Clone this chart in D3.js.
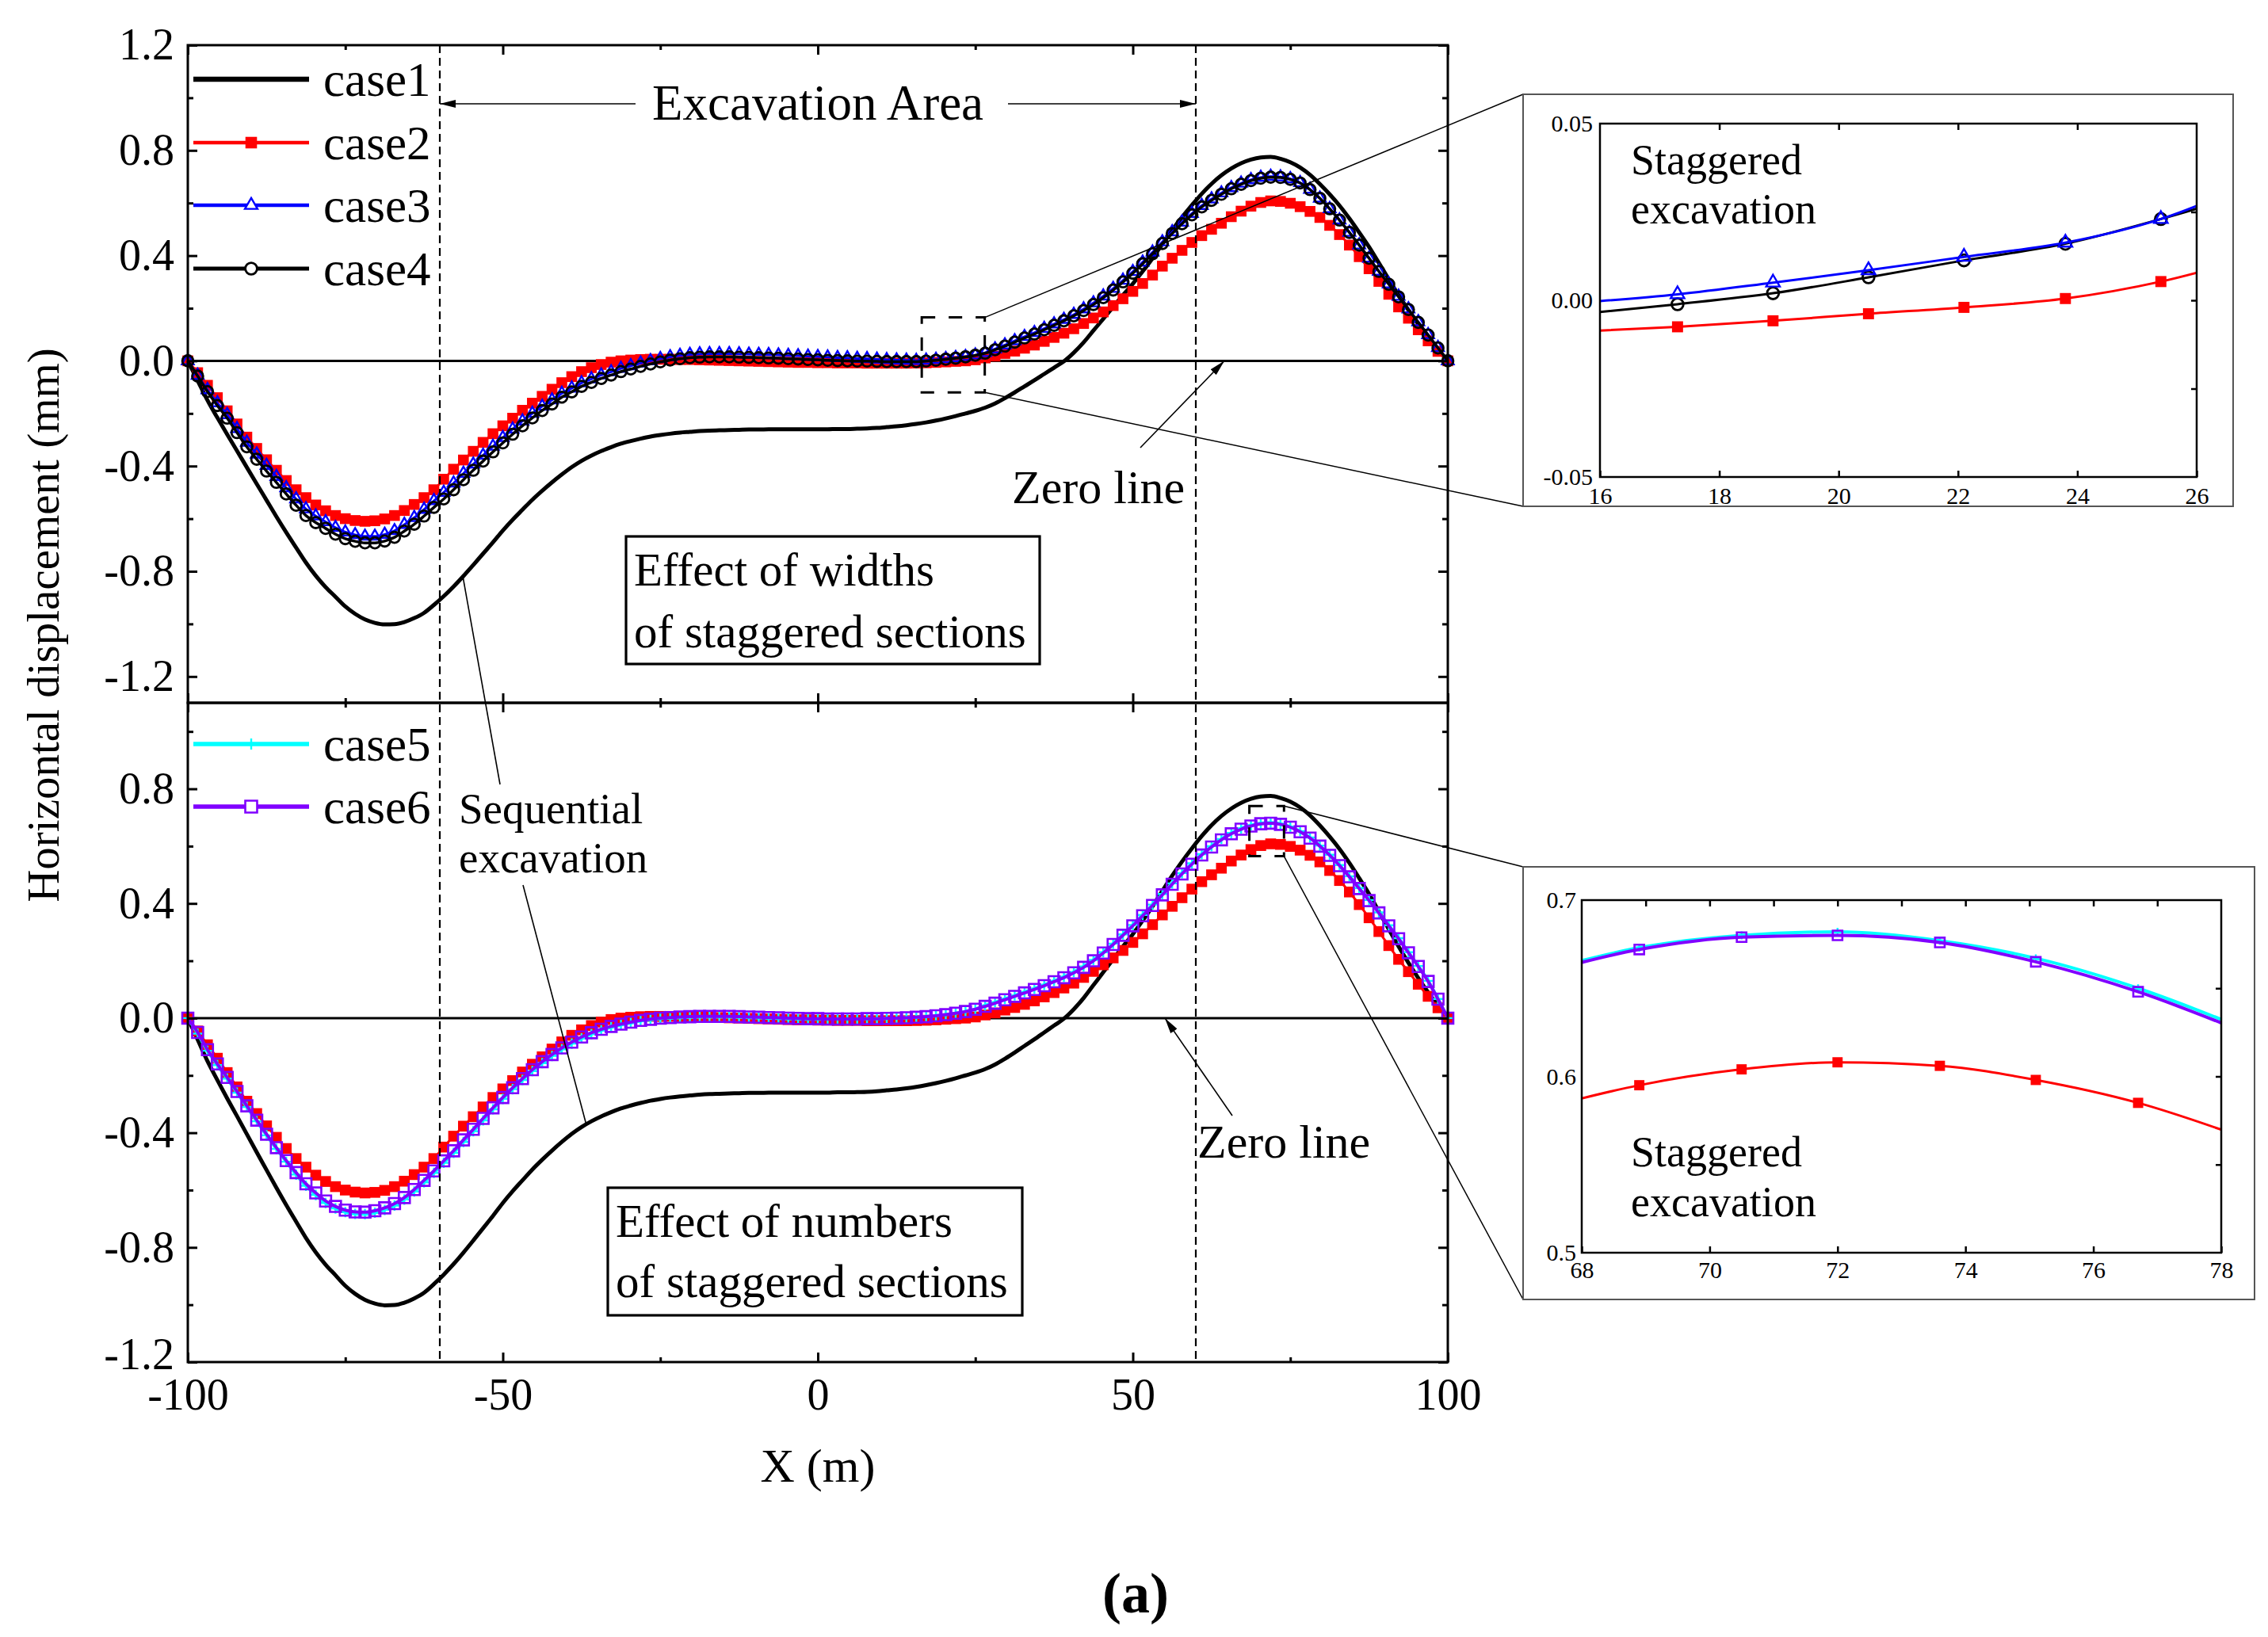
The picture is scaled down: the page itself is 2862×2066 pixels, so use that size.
<!DOCTYPE html>
<html>
<head>
<meta charset="utf-8">
<script src="https://cdn.jsdelivr.net/npm/d3@7"></script>
<style>
  html, body { margin: 0; padding: 0; background: #fff; }
  svg { display: block; }
</style>
</head>
<body>
<svg id="chart" width="2862" height="2066"></svg>
<script>
// ---- data: horizontal displacement (mm) along X (m), one value per node ----
const xNode = [-100, -98.44, -96.88, -95.31, -93.75, -92.19, -90.63, -89.06, -87.5, -85.94,
  -84.38, -82.81, -81.25, -79.69, -78.13, -76.56, -75, -73.44, -71.88, -70.31,
  -68.75, -67.19, -65.63, -64.06, -62.5, -60.94, -59.38, -57.81, -56.25, -54.69,
  -53.13, -51.56, -50, -48.44, -46.88, -45.31, -43.75, -42.19, -40.63, -39.06,
  -37.5, -35.94, -34.38, -32.81, -31.25, -29.69, -28.13, -26.56, -25, -23.44,
  -21.88, -20.31, -18.75, -17.19, -15.63, -14.06, -12.5, -10.94, -9.38, -7.81,
  -6.25, -4.69, -3.13, -1.56, 0, 1.56, 3.13, 4.69, 6.25, 7.81,
  9.38, 10.94, 12.5, 14.06, 15.63, 17.19, 18.75, 20.31, 21.88, 23.44,
  25, 26.56, 28.13, 29.69, 31.25, 32.81, 34.38, 35.94, 37.5, 39.06,
  40.63, 42.19, 43.75, 45.31, 46.88, 48.44, 50, 51.56, 53.13, 54.69,
  56.25, 57.81, 59.38, 60.94, 62.5, 64.06, 65.63, 67.19, 68.75, 70.31,
  71.88, 73.44, 75, 76.56, 78.13, 79.69, 81.25, 82.81, 84.38, 85.94,
  87.5, 89.06, 90.63, 92.19, 93.75, 95.31, 96.88, 98.44, 100];

const case1 = [0, -0.075, -0.15, -0.216, -0.28, -0.342, -0.405, -0.468, -0.53, -0.592,
  -0.652, -0.71, -0.767, -0.817, -0.86, -0.897, -0.934, -0.962, -0.983, -0.996,
  -1.002, -1.001, -0.993, -0.978, -0.958, -0.928, -0.895, -0.858, -0.818, -0.776,
  -0.733, -0.69, -0.645, -0.604, -0.566, -0.528, -0.494, -0.462, -0.432, -0.404,
  -0.38, -0.36, -0.343, -0.328, -0.315, -0.305, -0.296, -0.288, -0.282, -0.277,
  -0.273, -0.27, -0.267, -0.265, -0.264, -0.263, -0.262, -0.261, -0.261, -0.26,
  -0.26, -0.26, -0.26, -0.26, -0.26, -0.26, -0.259, -0.259, -0.258, -0.257,
  -0.255, -0.252, -0.249, -0.245, -0.24, -0.234, -0.227, -0.219, -0.21, -0.2,
  -0.19, -0.178, -0.162, -0.142, -0.12, -0.097, -0.074, -0.05, -0.026, -0.002,
  0.031, 0.07, 0.115, 0.16, 0.205, 0.25, 0.293, 0.34, 0.39, 0.444,
  0.497, 0.546, 0.592, 0.635, 0.673, 0.705, 0.731, 0.751, 0.765, 0.773,
  0.775, 0.768, 0.755, 0.735, 0.707, 0.672, 0.633, 0.59, 0.541, 0.488,
  0.433, 0.372, 0.31, 0.25, 0.193, 0.14, 0.09, 0.044, 0];

const case2 = [0, -0.045, -0.093, -0.14, -0.19, -0.24, -0.29, -0.333, -0.376, -0.416,
  -0.455, -0.49, -0.52, -0.548, -0.57, -0.588, -0.6, -0.607, -0.61, -0.608,
  -0.601, -0.588, -0.569, -0.546, -0.52, -0.49, -0.45, -0.412, -0.377, -0.344,
  -0.31, -0.277, -0.247, -0.218, -0.188, -0.161, -0.135, -0.108, -0.083, -0.06,
  -0.041, -0.026, -0.014, -0.005, 0, 0.003, 0.005, 0.006, 0.006, 0.006,
  0.005, 0.005, 0.004, 0.003, 0.002, 0.001, 0, -0.001, -0.002, -0.003,
  -0.004, -0.005, -0.006, -0.006, -0.007, -0.007, -0.008, -0.008, -0.008, -0.009,
  -0.009, -0.009, -0.009, -0.009, -0.0085, -0.0075, -0.006, -0.004, -0.002, 0,
  0.004, 0.011, 0.018, 0.028, 0.037, 0.048, 0.06, 0.074, 0.089, 0.105,
  0.122, 0.142, 0.163, 0.186, 0.21, 0.236, 0.264, 0.294, 0.326, 0.36,
  0.39, 0.42, 0.45, 0.476, 0.5, 0.523, 0.548, 0.569, 0.588, 0.602,
  0.608, 0.606, 0.599, 0.586, 0.568, 0.545, 0.515, 0.48, 0.44, 0.396,
  0.35, 0.302, 0.253, 0.205, 0.162, 0.118, 0.076, 0.036, 0];

const case3 = [0, -0.055, -0.11, -0.16, -0.205, -0.258, -0.31, -0.355, -0.398, -0.44,
  -0.483, -0.525, -0.563, -0.59, -0.612, -0.634, -0.651, -0.661, -0.667, -0.667,
  -0.66, -0.646, -0.622, -0.596, -0.565, -0.532, -0.5, -0.465, -0.428, -0.393,
  -0.359, -0.325, -0.292, -0.26, -0.229, -0.2, -0.173, -0.149, -0.124, -0.104,
  -0.084, -0.069, -0.054, -0.042, -0.029, -0.019, -0.009, 0, 0.008, 0.015,
  0.02, 0.024, 0.026, 0.027, 0.027, 0.027, 0.026, 0.025, 0.024, 0.023,
  0.022, 0.02, 0.019, 0.017, 0.016, 0.014, 0.012, 0.011, 0.009, 0.008,
  0.006, 0.004, 0.003, 0.002, 0.001, 0.002, 0.005, 0.008, 0.012, 0.016,
  0.022, 0.031, 0.045, 0.06, 0.076, 0.092, 0.107, 0.123, 0.14, 0.157,
  0.176, 0.197, 0.22, 0.246, 0.275, 0.306, 0.339, 0.375, 0.413, 0.452,
  0.49, 0.527, 0.56, 0.59, 0.615, 0.638, 0.658, 0.675, 0.688, 0.697,
  0.701, 0.699, 0.692, 0.677, 0.652, 0.618, 0.578, 0.535, 0.488, 0.44,
  0.39, 0.34, 0.292, 0.245, 0.197, 0.148, 0.099, 0.05, 0];

const case4 = [0, -0.058, -0.117, -0.17, -0.218, -0.273, -0.327, -0.374, -0.419, -0.462,
  -0.506, -0.549, -0.588, -0.615, -0.637, -0.659, -0.676, -0.686, -0.692, -0.692,
  -0.685, -0.671, -0.647, -0.621, -0.59, -0.557, -0.525, -0.49, -0.452, -0.416,
  -0.381, -0.346, -0.312, -0.279, -0.247, -0.217, -0.189, -0.164, -0.138, -0.118,
  -0.097, -0.082, -0.067, -0.054, -0.041, -0.031, -0.021, -0.012, -0.004, 0.003,
  0.008, 0.012, 0.014, 0.015, 0.015, 0.015, 0.014, 0.013, 0.012, 0.011,
  0.01, 0.008, 0.007, 0.005, 0.004, 0.002, 0.001, 0, -0.001, -0.001,
  -0.002, -0.003, -0.003, -0.003, -0.003, -0.001, 0.002, 0.006, 0.01, 0.015,
  0.021, 0.029, 0.042, 0.056, 0.071, 0.087, 0.102, 0.118, 0.135, 0.152,
  0.171, 0.191, 0.214, 0.24, 0.269, 0.3, 0.333, 0.369, 0.407, 0.446,
  0.484, 0.521, 0.555, 0.585, 0.61, 0.633, 0.654, 0.671, 0.685, 0.694,
  0.698, 0.697, 0.69, 0.676, 0.651, 0.618, 0.578, 0.535, 0.488, 0.44,
  0.39, 0.34, 0.291, 0.243, 0.195, 0.146, 0.098, 0.049, 0];

const case5 = [0, -0.054, -0.114, -0.164, -0.211, -0.26, -0.31, -0.36, -0.409, -0.456,
  -0.501, -0.546, -0.585, -0.617, -0.645, -0.664, -0.677, -0.683, -0.684, -0.679,
  -0.669, -0.654, -0.633, -0.605, -0.573, -0.54, -0.505, -0.47, -0.432, -0.395,
  -0.357, -0.318, -0.282, -0.248, -0.216, -0.185, -0.157, -0.132, -0.109, -0.089,
  -0.071, -0.056, -0.043, -0.032, -0.024, -0.017, -0.01, -0.006, -0.002, 0,
  0.002, 0.003, 0.004, 0.004, 0.004, 0.004, 0.003, 0.002, 0.001, 0,
  -0.001, -0.002, -0.003, -0.004, -0.004, -0.003, -0.003, -0.003, -0.003, -0.002,
  -0.002, -0.001, 0, 0.001, 0.003, 0.005, 0.008, 0.012, 0.017, 0.023,
  0.031, 0.044, 0.055, 0.067, 0.079, 0.091, 0.103, 0.116, 0.13, 0.144,
  0.161, 0.18, 0.203, 0.23, 0.26, 0.292, 0.325, 0.36, 0.396, 0.433,
  0.47, 0.506, 0.54, 0.572, 0.6, 0.625, 0.646, 0.662, 0.673, 0.68,
  0.682, 0.678, 0.668, 0.652, 0.63, 0.602, 0.57, 0.534, 0.495, 0.454,
  0.412, 0.369, 0.324, 0.279, 0.23, 0.182, 0.13, 0.067, 0];

const case6 = [0, -0.05, -0.11, -0.16, -0.207, -0.256, -0.306, -0.356, -0.405, -0.452,
  -0.497, -0.539, -0.578, -0.61, -0.638, -0.657, -0.67, -0.676, -0.677, -0.672,
  -0.662, -0.647, -0.626, -0.598, -0.566, -0.533, -0.498, -0.463, -0.425, -0.388,
  -0.35, -0.313, -0.277, -0.243, -0.211, -0.18, -0.152, -0.127, -0.104, -0.084,
  -0.066, -0.051, -0.039, -0.029, -0.021, -0.014, -0.008, -0.004, 0, 0.002,
  0.004, 0.005, 0.006, 0.006, 0.006, 0.006, 0.005, 0.004, 0.003, 0.002,
  0.001, 0, -0.001, -0.002, -0.002, -0.003, -0.003, -0.003, -0.003, -0.002,
  -0.002, -0.001, 0, 0.001, 0.003, 0.005, 0.008, 0.012, 0.017, 0.023,
  0.031, 0.041, 0.052, 0.064, 0.076, 0.088, 0.1, 0.113, 0.127, 0.141,
  0.158, 0.177, 0.2, 0.227, 0.257, 0.289, 0.322, 0.357, 0.393, 0.43,
  0.467, 0.503, 0.537, 0.569, 0.597, 0.622, 0.643, 0.659, 0.67, 0.678,
  0.68, 0.676, 0.666, 0.65, 0.628, 0.6, 0.568, 0.532, 0.493, 0.452,
  0.41, 0.367, 0.322, 0.277, 0.228, 0.18, 0.128, 0.066, 0];

// insets
const insetTopX = [15.7, 17.3, 18.9, 20.5, 22.1, 23.8, 25.4, 27.0];
const insetTopCase2 = [-0.0088, -0.0075, -0.0058, -0.0038, -0.002, 0.0005, 0.0053, 0.0125];
const insetTopCase3 = [-0.0006, 0.0017, 0.005, 0.0085, 0.0123, 0.0163, 0.023, 0.034];
const insetTopCase4 = [-0.0038, -0.0011, 0.002, 0.0065, 0.0113, 0.016, 0.023, 0.031];
const insetBotX = [67.4, 68.9, 70.5, 72.0, 73.6, 75.1, 76.7, 78.3];
const insetBotCase2 = [0.582, 0.595, 0.604, 0.608, 0.606, 0.598, 0.585, 0.566];
const insetBotCase5 = [0.66, 0.673, 0.68, 0.682, 0.677, 0.667, 0.65, 0.628];
const insetBotCase6 = [0.659, 0.672, 0.679, 0.68, 0.676, 0.665, 0.648, 0.626];

// ticks and labels
const topYLabels = [-1.2, -0.8, -0.4, 0, 0.4, 0.8, 1.2];
const botYLabels = [-1.2, -0.8, -0.4, 0, 0.4, 0.8];
const yMinorTicks = [-1.0, -0.6, -0.2, 0.2, 0.6, 1.0];
const xLabels = [-100, -50, 0, 50, 100];
const xMinorTicks = [-75, -25, 25, 75];
const excavationEdges = [-60, 60];

// ---- layout ----
const FONT = '"Liberation Serif", "Times New Roman", Times, serif';
const svg = d3.select("#chart");
const defs = svg.append("defs");

const xMain = d3.scaleLinear().domain([-100, 100]).range([237, 1827]);
const yTop = d3.scaleLinear().domain([-1.3, 1.2]).range([887, 57]);
const yBot = d3.scaleLinear().domain([-1.2, 1.1]).range([1719, 887]);

const fmt1 = v => (Math.abs(v) < 1e-9 ? 0 : v).toFixed(1);

// thin "+" marker drawn with strokes
const symbolPlusLine = {
  draw(ctx, size) {
    const r = Math.sqrt(size) / 2;
    ctx.moveTo(-r, 0); ctx.lineTo(r, 0);
    ctx.moveTo(0, -r); ctx.lineTo(0, r);
  }
};

const styles = {
  case1: { color: "#000000", lw: 5 },
  case2: { color: "#ff0000", lw: 3, symbol: d3.symbolSquare, size: 185, fill: "#ff0000", sw: 0 },
  case3: { color: "#0000ff", lw: 3, symbol: d3.symbolTriangle, size: 95, fill: "none", sw: 2.4 },
  case4: { color: "#000000", lw: 3.5, symbol: d3.symbolCircle, size: 150, fill: "none", sw: 2.8 },
  case5: { color: "#00ffff", lw: 4, symbol: symbolPlusLine, size: 170, fill: "none", sw: 2.4 },
  case6: { color: "#8000ff", lw: 4, symbol: d3.symbolSquare, size: 195, fill: "none", sw: 2.6 }
};

function drawSeries(g, xs, ys, xScale, yScale, st, symbolScale = 1) {
  const pts = d3.zip(xs, ys);
  g.append("path")
    .datum(pts)
    .attr("fill", "none")
    .attr("stroke", st.color)
    .attr("stroke-width", st.lw)
    .attr("stroke-linejoin", "round")
    .attr("d", d3.line().x(d => xScale(d[0])).y(d => yScale(d[1])).curve(d3.curveMonotoneX));
  if (st.symbol) {
    g.append("g").selectAll("path")
      .data(pts)
      .join("path")
      .attr("transform", d => `translate(${xScale(d[0])},${yScale(d[1])})`)
      .attr("d", d3.symbol(st.symbol, st.size * symbolScale))
      .attr("fill", st.fill)
      .attr("stroke", st.sw ? st.color : "none")
      .attr("stroke-width", st.sw);
  }
}

function styleAxis(g, size) {
  g.attr("font-family", FONT).attr("font-size", size);
  g.select(".domain").remove();
  g.selectAll(".tick line").attr("stroke", "#000").attr("stroke-width", 3);
  g.selectAll(".tick text").attr("fill", "#000");
}

// ---- panel frames and axes ----
const panels = [
  { y: yTop, top: 57, bottom: 887, labels: topYLabels, xText: false },
  { y: yBot, top: 887, bottom: 1719, labels: botYLabels, xText: true }
];

panels.forEach(p => {
  // zero line
  svg.append("line")
    .attr("x1", xMain(-100)).attr("x2", xMain(100))
    .attr("y1", p.y(0)).attr("y2", p.y(0))
    .attr("stroke", "#000").attr("stroke-width", 3);
});

// curves
const gTop = svg.append("g");
drawSeries(gTop, xNode, case1, xMain, yTop, styles.case1);
drawSeries(gTop, xNode, case2, xMain, yTop, styles.case2);
drawSeries(gTop, xNode, case3, xMain, yTop, styles.case3);
drawSeries(gTop, xNode, case4, xMain, yTop, styles.case4);

const gBot = svg.append("g");
drawSeries(gBot, xNode, case1, xMain, yBot, styles.case1);
drawSeries(gBot, xNode, case2, xMain, yBot, styles.case2);
drawSeries(gBot, xNode, case5, xMain, yBot, styles.case5);
drawSeries(gBot, xNode, case6, xMain, yBot, styles.case6);

// excavation edges
svg.append("g").selectAll("line")
  .data(excavationEdges)
  .join("line")
  .attr("x1", d => xMain(d)).attr("x2", d => xMain(d))
  .attr("y1", 57).attr("y2", 1719)
  .attr("stroke", "#000").attr("stroke-width", 2.2)
  .attr("stroke-dasharray", "10,6");

panels.forEach(p => {
  svg.append("rect")
    .attr("x", xMain(-100)).attr("y", p.top)
    .attr("width", xMain(100) - xMain(-100)).attr("height", p.bottom - p.top)
    .attr("fill", "none").attr("stroke", "#000").attr("stroke-width", 3);

  svg.append("g").attr("transform", `translate(${xMain(-100)},0)`)
    .call(d3.axisLeft(p.y).tickValues(p.labels).tickSize(-12).tickSizeOuter(0).tickPadding(17).tickFormat(fmt1))
    .call(g => styleAxis(g, 56))
    .call(g => g.selectAll(".tick text").attr("dy", d => (p.xText && d === p.labels[0]) ? "0.15em" : "0.32em"));
  svg.append("g").attr("transform", `translate(${xMain(-100)},0)`)
    .call(d3.axisLeft(p.y).tickValues(yMinorTicks.filter(v => v < p.y.domain()[1])).tickSize(-7).tickSizeOuter(0).tickFormat(""))
    .call(g => styleAxis(g, 56));
  svg.append("g").attr("transform", `translate(${xMain(100)},0)`)
    .call(d3.axisRight(p.y).tickValues(p.labels).tickSize(-12).tickSizeOuter(0).tickFormat(""))
    .call(g => styleAxis(g, 56));
  svg.append("g").attr("transform", `translate(${xMain(100)},0)`)
    .call(d3.axisRight(p.y).tickValues(yMinorTicks.filter(v => v < p.y.domain()[1])).tickSize(-7).tickSizeOuter(0).tickFormat(""))
    .call(g => styleAxis(g, 56));

  svg.append("g").attr("transform", `translate(0,${p.top})`)
    .call(d3.axisTop(xMain).tickValues(xLabels).tickSize(-12).tickSizeOuter(0).tickFormat(""))
    .call(g => styleAxis(g, 56));
  svg.append("g").attr("transform", `translate(0,${p.top})`)
    .call(d3.axisTop(xMain).tickValues(xMinorTicks).tickSize(-6).tickSizeOuter(0).tickFormat(""))
    .call(g => styleAxis(g, 56));
  svg.append("g").attr("transform", `translate(0,${p.bottom})`)
    .call(d3.axisBottom(xMain).tickValues(xLabels).tickSize(-12).tickSizeOuter(0).tickPadding(20)
      .tickFormat(p.xText ? (d => String(d)) : ""))
    .call(g => styleAxis(g, 56));
  svg.append("g").attr("transform", `translate(0,${p.bottom})`)
    .call(d3.axisBottom(xMain).tickValues(xMinorTicks).tickSize(-6).tickSizeOuter(0).tickFormat(""))
    .call(g => styleAxis(g, 56));
});

// axis titles
svg.append("text")
  .attr("transform", "translate(74,789) rotate(-90)")
  .attr("text-anchor", "middle")
  .attr("font-family", FONT).attr("font-size", 57)
  .text("Horizontal displacement (mm)");
svg.append("text")
  .attr("x", xMain(0)).attr("y", 1870)
  .attr("text-anchor", "middle")
  .attr("font-family", FONT).attr("font-size", 60)
  .text("X (m)");
svg.append("text")
  .attr("x", 1433).attr("y", 2035)
  .attr("text-anchor", "middle")
  .attr("font-family", FONT).attr("font-size", 72).attr("font-weight", "bold")
  .text("(a)");

// ---- legends ----
const legendTop = [
  { name: "case1", st: styles.case1, y: 100 },
  { name: "case2", st: styles.case2, y: 180 },
  { name: "case3", st: styles.case3, y: 259 },
  { name: "case4", st: styles.case4, y: 339 }
];
const legendBot = [
  { name: "case5", st: styles.case5, y: 939 },
  { name: "case6", st: styles.case6, y: 1018 }
];
legendTop.concat(legendBot).forEach(e => {
  const g = svg.append("g");
  g.append("line")
    .attr("x1", 244).attr("x2", 390).attr("y1", e.y).attr("y2", e.y)
    .attr("stroke", e.st.color).attr("stroke-width", e.st.lw + 1.5);
  if (e.st.symbol) {
    g.append("path")
      .attr("transform", `translate(317,${e.y})`)
      .attr("d", d3.symbol(e.st.symbol, e.st.size * 1.15))
      .attr("fill", e.st.fill === "none" ? "#fff" : e.st.fill)
      .attr("stroke", e.st.sw ? e.st.color : "none")
      .attr("stroke-width", e.st.sw);
  }
  g.append("text")
    .attr("x", 408).attr("y", e.y + 21)
    .attr("font-family", FONT).attr("font-size", 61)
    .text(e.name);
});

// ---- annotations ----
defs.append("marker")
  .attr("id", "arrow")
  .attr("markerUnits", "userSpaceOnUse")
  .attr("markerWidth", 22).attr("markerHeight", 10)
  .attr("refX", 20).attr("refY", 5)
  .attr("orient", "auto")
  .append("path").attr("d", "M0,0 L20,5 L0,10 Z").attr("fill", "#000");

function arrow(x1, y1, x2, y2) {
  svg.append("line")
    .attr("x1", x1).attr("y1", y1).attr("x2", x2).attr("y2", y2)
    .attr("stroke", "#000").attr("stroke-width", 1.6)
    .attr("marker-end", "url(#arrow)");
}
function plainLine(x1, y1, x2, y2, w = 1.6) {
  svg.append("line")
    .attr("x1", x1).attr("y1", y1).attr("x2", x2).attr("y2", y2)
    .attr("stroke", "#000").attr("stroke-width", w);
}
function label(x, y, txt, size) {
  svg.append("text").attr("x", x).attr("y", y)
    .attr("font-family", FONT).attr("font-size", size).text(txt);
}

// Excavation Area
label(823, 151, "Excavation Area", 63);
arrow(802, 131, xMain(excavationEdges[0]), 131);
arrow(1272, 131, xMain(excavationEdges[1]), 131);

// Zero line labels
label(1277, 635, "Zero line", 60);
arrow(1439, 565, 1545, yTop(0));
label(1511, 1461, "Zero line", 60);
arrow(1555, 1408, 1470, yBot(0));

// Effect boxes
function effectBox(x, y, w, h, lines, base1, base2) {
  svg.append("rect").attr("x", x).attr("y", y).attr("width", w).attr("height", h)
    .attr("fill", "#fff").attr("stroke", "#000").attr("stroke-width", 3.2);
  label(x + 10, base1, lines[0], 59);
  label(x + 10, base2, lines[1], 59);
}
effectBox(790, 677, 522, 161, ["Effect of widths", "of staggered sections"], 739, 817);
effectBox(767, 1499, 523, 161, ["Effect of numbers", "of staggered sections"], 1561, 1637);

// Sequential excavation
label(579, 1039, "Sequential", 55);
label(579, 1101, "excavation", 55);
plainLine(631, 990, 584, 727);
plainLine(660, 1117, 740, 1420);

// ---- inset frames / connectors ----
const insetTop = { outer: [1922, 119, 896, 520], plot: [2019, 156, 753, 446] };
const insetBot = { outer: [1922, 1094, 923, 546], plot: [1996, 1136, 807, 445] };
const zoomBoxTop = { x: [16.5, 26.5], y: [-0.12, 0.165] };
const zoomBoxBot = { x: [68.5, 74], y: [0.565, 0.74] };

function zoomBox(b, yScale) {
  svg.append("rect")
    .attr("x", xMain(b.x[0])).attr("y", yScale(b.y[1]))
    .attr("width", xMain(b.x[1]) - xMain(b.x[0]))
    .attr("height", yScale(b.y[0]) - yScale(b.y[1]))
    .attr("fill", "none").attr("stroke", "#000").attr("stroke-width", 3)
    .attr("stroke-dasharray", "17,17");
}
zoomBox(zoomBoxTop, yTop);
zoomBox(zoomBoxBot, yBot);

plainLine(xMain(zoomBoxTop.x[1]), yTop(zoomBoxTop.y[1]), insetTop.outer[0], insetTop.outer[1], 1.5);
plainLine(xMain(zoomBoxTop.x[1]), yTop(zoomBoxTop.y[0]), insetTop.outer[0], insetTop.outer[1] + insetTop.outer[3], 1.5);
plainLine(xMain(zoomBoxBot.x[1]), yBot(zoomBoxBot.y[1]), insetBot.outer[0], insetBot.outer[1], 1.5);
plainLine(xMain(zoomBoxBot.x[1]), yBot(zoomBoxBot.y[0]), insetBot.outer[0], insetBot.outer[1] + insetBot.outer[3], 1.5);

function drawInset(cfg) {
  const [ox, oy, ow, oh] = cfg.box.outer;
  const [px, py, pw, ph] = cfg.box.plot;
  const g = svg.append("g");
  g.append("rect").attr("x", ox).attr("y", oy).attr("width", ow).attr("height", oh)
    .attr("fill", "#fff").attr("stroke", "#555").attr("stroke-width", 2);

  const x = d3.scaleLinear().domain(cfg.xDomain).range([px, px + pw]);
  const y = d3.scaleLinear().domain(cfg.yDomain).range([py + ph, py]);

  defs.append("clipPath").attr("id", cfg.id)
    .append("rect").attr("x", px).attr("y", py).attr("width", pw).attr("height", ph);
  const pg = g.append("g").attr("clip-path", `url(#${cfg.id})`);
  cfg.series.forEach(s => drawSeries(pg, cfg.xs, s.values, x, y, s.st, s.scale));

  g.append("rect").attr("x", px).attr("y", py).attr("width", pw).attr("height", ph)
    .attr("fill", "none").attr("stroke", "#000").attr("stroke-width", 2.5);

  const small = g2 => {
    g2.attr("font-family", FONT).attr("font-size", 30);
    g2.select(".domain").remove();
    g2.selectAll(".tick line").attr("stroke", "#000").attr("stroke-width", 2.5);
  };
  g.append("g").attr("transform", `translate(${px},0)`)
    .call(d3.axisLeft(y).tickValues(cfg.yLabels).tickSize(0).tickPadding(cfg.yPad).tickFormat(cfg.yFmt))
    .call(small);
  g.append("g").attr("transform", `translate(${px + pw},0)`)
    .call(d3.axisRight(y).tickValues(cfg.yRight).tickSize(-7).tickSizeOuter(0).tickFormat(""))
    .call(small);
  g.append("g").attr("transform", `translate(0,${py + ph})`)
    .call(d3.axisBottom(x).tickValues(cfg.xLabels).tickSize(-8).tickSizeOuter(0).tickPadding(cfg.xPad).tickFormat(d => String(d)))
    .call(small);
  g.append("g").attr("transform", `translate(0,${py})`)
    .call(d3.axisTop(x).tickValues(cfg.xTop).tickSize(-8).tickSizeOuter(0).tickFormat(""))
    .call(small);

  cfg.text.forEach((t, i) => {
    g.append("text").attr("x", cfg.textX).attr("y", cfg.textY[i])
      .attr("font-family", FONT).attr("font-size", 54).text(t);
  });
}

drawInset({
  id: "clipTop", box: insetTop,
  xDomain: [16, 26], yDomain: [-0.05, 0.05], xs: insetTopX,
  series: [
    { values: insetTopCase2, st: styles.case2, scale: 1.05 },
    { values: insetTopCase4, st: { ...styles.case4, lw: 3 }, scale: 1.15 },
    { values: insetTopCase3, st: styles.case3, scale: 1.35 }
  ],
  yLabels: [-0.05, 0, 0.05], yFmt: v => (Math.abs(v) < 1e-9 ? 0 : v).toFixed(2), yPad: 9,
  yRight: [-0.025, 0, 0.025],
  xLabels: [16, 18, 20, 22, 24, 26], xPad: 13, xTop: [18, 20, 22, 24],
  text: ["Staggered", "excavation"], textX: 2058, textY: [220, 282]
});

drawInset({
  id: "clipBot", box: insetBot,
  xDomain: [68, 78], yDomain: [0.5, 0.7], xs: insetBotX,
  series: [
    { values: insetBotCase2, st: styles.case2, scale: 0.9 },
    { values: insetBotCase5, st: styles.case5, scale: 0.6 },
    { values: insetBotCase6, st: styles.case6, scale: 0.75 }
  ],
  yLabels: [0.5, 0.6, 0.7], yFmt: v => v.toFixed(1), yPad: 7,
  yRight: [0.55, 0.6, 0.65],
  xLabels: [68, 70, 72, 74, 76, 78], xPad: 11, xTop: [69, 70, 71, 72, 73, 74, 75, 76, 77],
  text: ["Staggered", "excavation"], textX: 2058, textY: [1472, 1535]
});
</script>
</body>
</html>
